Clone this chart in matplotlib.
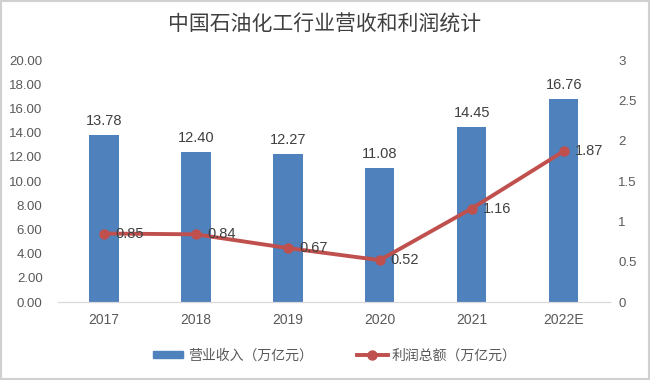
import matplotlib
matplotlib.use("Agg")
import matplotlib.pyplot as plt
from matplotlib.patches import Rectangle
from matplotlib.lines import Line2D

plt.rcParams['font.family'] = ['Noto Sans CJK SC', 'DejaVu Sans']

years = ["2017", "2018", "2019", "2020", "2021", "2022E"]
revenue = [13.78, 12.40, 12.27, 11.08, 14.45, 16.76]   # 营业收入（万亿元）
profit = [0.85, 0.84, 0.67, 0.52, 1.16, 1.87]          # 利润总额（万亿元）

bar_color = "#4F81BD"
line_color = "#C0504D"
text_color = "#404040"
tick_color = "#595959"
num_font = ["Liberation Sans", "DejaVu Sans"]

fig = plt.figure(figsize=(6.5, 3.8), dpi=100)
ax = fig.add_axes([0.089, 0.205, 0.849, 0.637])
ax2 = ax.twinx()

x = range(len(years))
ax.bar(x, revenue, width=0.32, color=bar_color, zorder=2)
for xi, v in zip(x, revenue):
    ax.annotate("%.2f" % v, (xi, v), xytext=(0, 5), textcoords="offset points",
                ha="center", va="bottom", fontsize=10.5, color=text_color,
                family=num_font)

ax2.plot(x, profit, color=line_color, lw=2.8, marker="o", ms=6.5, zorder=3)
for xi, v in zip(x, profit):
    ax2.annotate("%.2f" % v, (xi, v), xytext=(8, 0), textcoords="offset points",
                 ha="left", va="center", fontsize=10.5, color=text_color,
                 family=num_font)

ax.set_xlim(-0.5, 5.5)
ax.set_ylim(0, 20)
ax.set_yticks(range(0, 21, 2))
ax.set_yticklabels(["%.2f" % t for t in range(0, 21, 2)])
ax2.set_ylim(0, 3)
ax2.set_yticks([0, 0.5, 1, 1.5, 2, 2.5, 3])
ax2.set_yticklabels(["0", "0.5", "1", "1.5", "2", "2.5", "3"])
ax.set_xticks(list(x))
ax.set_xticklabels(years)

for a in (ax, ax2):
    for s in ("top", "left", "right"):
        a.spines[s].set_visible(False)
    a.spines["bottom"].set_color("#d9d9d9")
    a.tick_params(length=0, labelsize=9.5, colors=tick_color)
    for lab in a.get_yticklabels() + a.get_xticklabels():
        lab.set_family(num_font)
ax.tick_params(axis="y", pad=11)
ax2.tick_params(axis="y", pad=6)
ax.tick_params(axis="x", pad=8, labelsize=10)

fig.text(0.5, 0.935, "中国石油化工行业营收和利润统计", ha="center", va="center",
         fontsize=15, color=text_color)

handles = [Rectangle((0, 0), 1, 1, color=bar_color),
           Line2D([], [], color=line_color, lw=2.8, marker="o", ms=6.5)]
fig.legend(handles, ["营业收入（万亿元）", "利润总额（万亿元）"], loc="center",
           bbox_to_anchor=(0.515, 0.065), ncol=2, frameon=False, fontsize=10,
           labelcolor=tick_color, handlelength=2.2, handleheight=0.45,
           columnspacing=3.2, handletextpad=0.3)

fig.patches.append(Rectangle((0.002, 0.003), 0.996, 0.994, transform=fig.transFigure,
                             fill=False, edgecolor="#d0d0d0", lw=1.5))

fig.savefig("out.png", dpi=100)
